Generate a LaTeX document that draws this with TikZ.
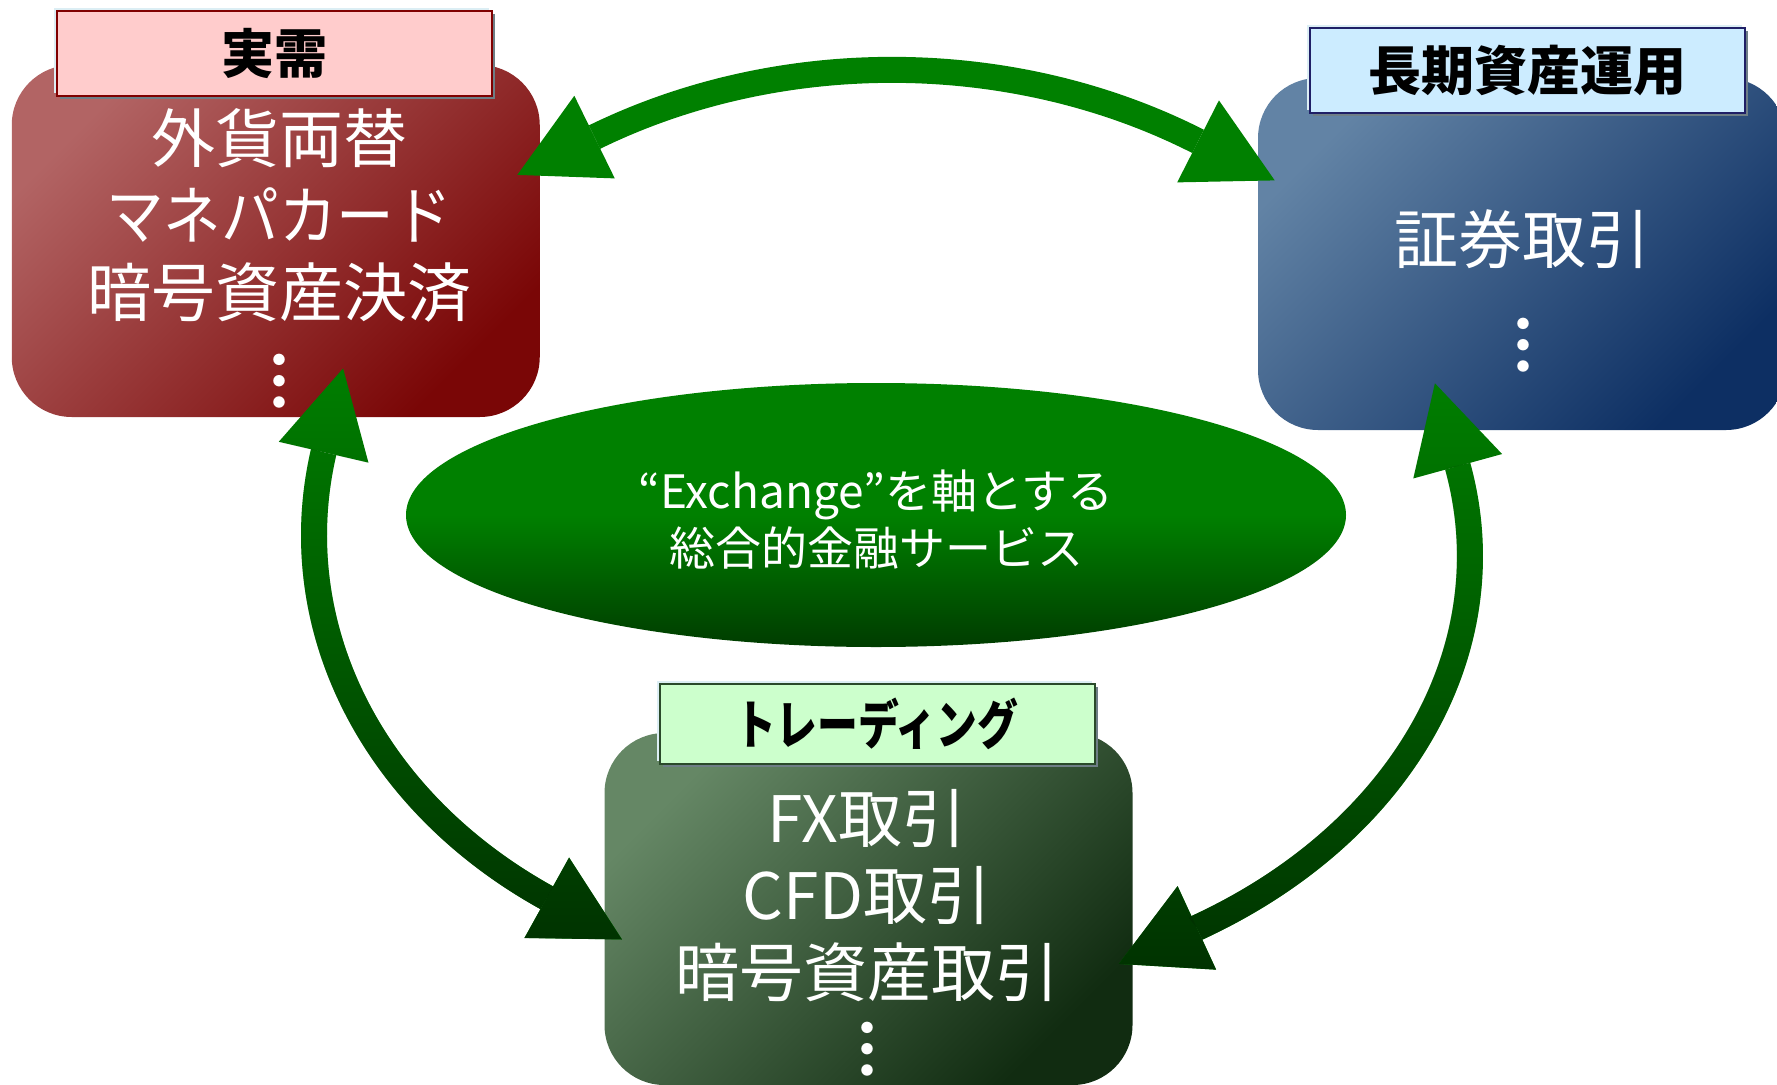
\documentclass[tikz,border=0pt]{standalone}
\usepackage{fontspec}
\setmainfont{Noto Sans CJK JP}
\usepackage{graphicx}
\usetikzlibrary{arrows.meta,calc,shapes.geometric,shadows,fadings}

\definecolor{arcgreen}{HTML}{008000}
\definecolor{arcdark}{HTML}{003200}
\definecolor{coreDark}{HTML}{003C00}
\definecolor{jitsuTop}{HTML}{B26464}
\definecolor{jitsuBot}{HTML}{7A0606}
\definecolor{chokiTop}{HTML}{6283A5}
\definecolor{chokiBot}{HTML}{0D2F63}
\definecolor{tradeTop}{HTML}{658765}
\definecolor{tradeBot}{HTML}{112C11}
\definecolor{jitsuFill}{HTML}{FFCCCC}
\definecolor{jitsuLine}{HTML}{800000}
\definecolor{chokiFill}{HTML}{CCECFF}
\definecolor{chokiLine}{HTML}{1F1F66}
\definecolor{tradeFill}{HTML}{CCFFCC}
\definecolor{tradeLine}{HTML}{2A4A2A}
\definecolor{tagShadow}{HTML}{6E7E86}
\definecolor{tagGlow}{HTML}{DCEEF4}

\tikzfading[name=fade down, top color=transparent!100, bottom color=transparent!0]

% a side arc: light green, darkened towards its lower end
\newcommand{\sidearc}[1]{
    \draw[biarrow, draw=arcgreen] #1;
    \draw[biarrow, draw=arcdark, path fading=fade down] #1;
}

\begin{document}
\begin{tikzpicture}[
    x=1pt, y=-1pt,
    field/.style 2 args={rounded corners=60pt, minimum width=528pt, minimum height=352pt,
        inner sep=0pt, top color=#1, bottom color=#2, shading angle=45},
    tag/.style={draw, line width=2pt, minimum width=435pt, minimum height=85pt, inner sep=0pt,
        font=\fontsize{53}{60}\selectfont\bfseries,
        general shadow={fill=tagGlow, shadow xshift=-3pt, shadow yshift=3pt},
        general shadow={fill=tagShadow, shadow xshift=3pt, shadow yshift=-3pt}},
    item/.style={text=white, align=center, inner sep=0pt, font=\fontsize{64}{77}\selectfont},
    dots/.style={item, font=\fontsize{64}{77}\selectfont\bfseries},
    biarrow/.style={line width=26pt, >={Triangle[length=86pt,width=92pt,line width=0pt]}, <->},
]
    \useasboundingbox (0,0) rectangle (1777,1084);

    % the three fields
    \node[field={jitsuTop}{jitsuBot}] (jitsu) at (275.75,241) {};
    \node[field={chokiTop}{chokiBot}] (choki) at (1522,254) {};
    \node[field={tradeTop}{tradeBot}] (trade) at (868.5,909) {};

    % headings
    \node[tag, draw=jitsuLine, fill=jitsuFill] (jitsuHead) at (274.5,53.5) {実需};
    \node[tag, draw=chokiLine, fill=chokiFill] (chokiHead) at (1527.5,70.5) {長期資産運用};
    \node[tag, draw=tradeLine, fill=tradeFill, minimum height=80pt] (tradeHead) at (877,724)
        {\scalebox{0.77}[1]{トレーディング}};

    % contents
    \node[item] (jitsuText) at (279,215) {外貨両替\\\scalebox{0.9}[1]{マネパカード}\\暗号資産決済};
    \node[dots] (jitsuDots) at (279,381) {︙};
    \node[item] (chokiText) at (1522,239) {証券取引};
    \node[dots] (chokiDots) at (1523,345) {︙};
    \node[item] (tradeText) at (867,896) {FX取引\\CFD取引\\暗号資産取引};
    \node[dots] (tradeDots) at (867,1049) {︙};

    % centre
    \node[ellipse, minimum width=940pt, minimum height=264pt, inner sep=0pt,
        top color=arcgreen, bottom color=coreDark, middle color=arcgreen] (core) at (876,515) {};
    \node[text=white, align=center, inner sep=0pt, font=\fontsize{46}{57}\selectfont] (coreText)
        at (876,519.5) {“Exchange”を軸とする\\総合的金融サービス};

    % arrows
    \draw[biarrow, draw=arcgreen] ($(jitsu.north east)+(-22.65,110.1)$) -- ++(77.2,-37.8)
        .. controls +(186.3,-91.2) and +(-184.3,-93.8) .. ($(choki.north west)+(-59.7,63.6)$) -- ++(76.6,39);
    \sidearc{($(jitsu.south)+(67.35,-48.8)$) -- ++(-19.5,83.8)
        .. controls +(-40.1,172.7) and +(-175.4,-97.1) .. ($(trade.west)+(-57.5,-11.3)$) -- ++(75.2,41.7)}
    \sidearc{($(choki.south)+(-87.1,-46.9)$) -- ++(22.8,82.9)
        .. controls +(49.8,181.3) and +(205.9,-94.9) .. ($(trade.east)+(64.2,18.9)$) -- ++(-78.1,36)}
\end{tikzpicture}
\end{document}
